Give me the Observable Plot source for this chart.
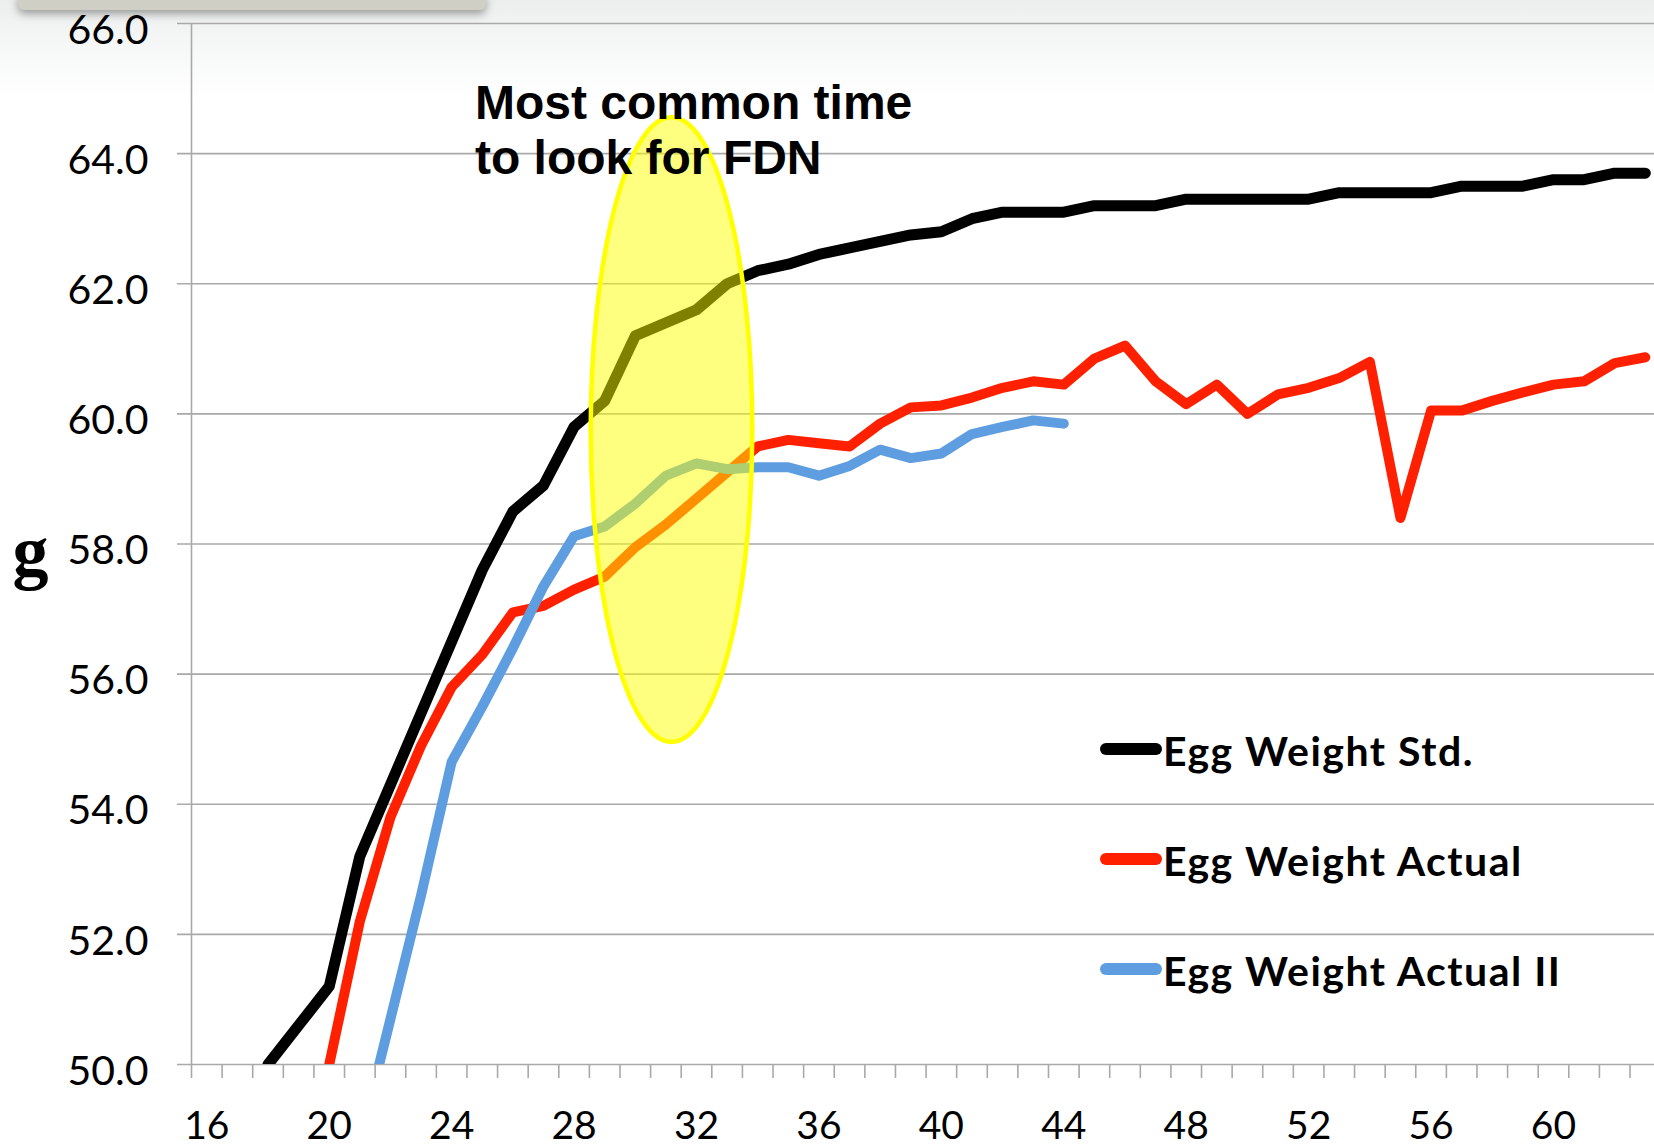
<!DOCTYPE html>
<html>
<head>
<meta charset="utf-8">
<script src="https://cdn.jsdelivr.net/npm/d3@7"></script>
<script src="https://cdn.jsdelivr.net/npm/@observablehq/plot@0.6"></script>
<style>
  html, body { margin: 0; padding: 0; background: #ffffff; }
  #wrap { position: relative; width: 1654px; height: 1147px; overflow: hidden;
          background: linear-gradient(to bottom, #eceeee 0px, #f4f5f5 35px, #fafbfb 70px, #ffffff 100px); }
  #bar { position: absolute; left: 18px; top: -8px; width: 468px; height: 18px; background: #cfcfc6;
         border-radius: 6px; box-shadow: 0 4px 8px rgba(0,0,0,0.35); }
  #chart { position: absolute; left: 0; top: 0; }
</style>
</head>
<body>
<div id="wrap"><div id="bar"></div><div id="chart"></div></div>
<script>
// ---- data (weeks of age, egg weight in g) ----
const weeks = [16,17,18,19,20,21,22,23,24,25,26,27,28,29,30,31,32,33,34,35,36,37,38,39,
               40,41,42,43,44,45,46,47,48,49,50,51,52,53,54,55,56,57,58,59,60,61,62,63];
const stdWeight = [null,null,50.0,50.6,51.2,53.2,54.3,55.4,56.5,57.6,58.5,58.9,59.8,60.2,61.2,61.4,61.6,62.0,62.2,62.3,62.45,62.55,62.65,62.75,
                   62.8,63.0,63.1,63.1,63.1,63.2,63.2,63.2,63.3,63.3,63.3,63.3,63.3,63.4,63.4,63.4,63.4,63.5,63.5,63.5,63.6,63.6,63.7,63.7];
const actualWeight = [null,null,null,null,50.0,52.2,53.8,54.9,55.8,56.3,56.95,57.05,57.3,57.5,57.95,58.3,58.7,59.1,59.5,59.6,59.55,59.5,59.85,60.1,
                      60.13,60.25,60.4,60.5,60.45,60.85,61.05,60.5,60.15,60.45,60.0,60.3,60.4,60.55,60.8,58.4,60.05,60.05,60.2,60.33,60.45,60.5,60.78,60.87];
const actual2Weight = [null,null,null,null,null,48.8,50.7,52.6,54.65,55.5,56.4,57.35,58.12,58.27,58.62,59.05,59.24,59.15,59.18,59.18,59.05,59.2,59.45,59.32,
                       59.39,59.69,59.8,59.9,59.85,null,null,null,null,null,null,null,null,null,null,null,null,null,null,null,null,null,null,null];
const seriesNames = ["Egg Weight Std.", "Egg Weight Actual", "Egg Weight Actual II"];
const seriesValues = [stdWeight, actualWeight, actual2Weight];
const seriesColors = ["#000000", "#ff2000", "#5e9ddf"];
const seriesWidths = [11, 10, 10];
const yTicks = [50, 52, 54, 56, 58, 60, 62, 64, 66];
const xTickLabels = [16, 20, 24, 28, 32, 36, 40, 44, 48, 52, 56, 60];
const yTitle = "g";
// highlighted period (ellipse) and its note
const highlight = {week: 31.2, g: 59.75, weekRadius: 2.64, gRadius: 4.8};
const note = {text: "Most common time\nto look for FDN", week: 24.76, g: 65.13};
// legend layout (pixels)
const legendLayout = {x: 1106, swatch: 50, textX: 1163, y0: 749, gap: 110};

const gridColor = "#a9a9a9";

const rows = seriesValues.map((vals, s) =>
  weeks.map((w, i) => ({week: w, g: vals[i], s})).filter(d => d.g != null));

const ellipseMark = (index, scales) => {
  const {x, y} = scales;
  return d3.create("svg:ellipse")
    .attr("cx", x(highlight.week))
    .attr("cy", y(highlight.g))
    .attr("rx", Math.abs(x(highlight.week + highlight.weekRadius) - x(highlight.week)))
    .attr("ry", Math.abs(y(highlight.g + highlight.gRadius) - y(highlight.g)))
    .attr("fill", "#ffff00").attr("fill-opacity", 0.5)
    .attr("stroke", "#ffff00").attr("stroke-width", 4.5)
    .node();
};

const legendMark = () => {
  const g = d3.create("svg:g");
  seriesNames.forEach((name, i) => {
    const cy = legendLayout.y0 + i * legendLayout.gap;
    g.append("line")
      .attr("x1", legendLayout.x).attr("x2", legendLayout.x + legendLayout.swatch)
      .attr("y1", cy).attr("y2", cy)
      .attr("stroke", seriesColors[i]).attr("stroke-width", 12).attr("stroke-linecap", "round");
    g.append("text")
      .attr("x", legendLayout.textX).attr("y", cy + 17)
      .attr("text-anchor", "start")
      .attr("font-family", "Lato").attr("font-weight", "bold").attr("font-size", 41)
      .attr("letter-spacing", "1.5px").attr("fill", "#000")
      .text(name);
  });
  return g.node();
};

const chart = Plot.plot({
  width: 1654,
  height: 1147,
  marginLeft: 191,
  marginRight: 0,
  marginTop: 23,
  marginBottom: 83,
  style: {background: "transparent", fontFamily: "Lato", overflow: "visible"},
  x: {domain: [15.5, 63.3], axis: null},
  y: {domain: [50, 66], axis: null},
  marks: [
    Plot.ruleY(yTicks, {stroke: gridColor, strokeWidth: 1.6, insetLeft: -14}),
    Plot.ruleX([weeks[0] - 0.5], {stroke: gridColor, strokeWidth: 1.6}),
    Plot.ruleX(weeks.map(w => w - 0.5), {y1: yTicks[0], y2: yTicks[0], insetBottom: -14, stroke: gridColor, strokeWidth: 1.6}),
    Plot.text(yTicks, {frameAnchor: "left", y: d => d, text: d => d.toFixed(1), textAnchor: "end",
      lineAnchor: "middle", dx: -43, dy: 7, fontSize: 41, fill: "#000", ariaLabel: "ylabels"}),
    Plot.text(xTickLabels, {x: d => d, frameAnchor: "bottom", text: d => String(d), textAnchor: "middle",
      lineAnchor: "bottom", dy: 74, fontSize: 39, fill: "#000", ariaLabel: "xlabels"}),
    Plot.text([yTitle], {frameAnchor: "left", text: d => d, textAnchor: "middle", lineAnchor: "middle",
      dx: -161, dy: 9, fontSize: 72, fontWeight: "bold", fontFamily: "Liberation Serif", fill: "#000"}),
    ...rows.map((data, s) => Plot.line(data, {x: "week", y: "g", stroke: seriesColors[s],
      strokeWidth: seriesWidths[s], strokeLinejoin: "round", strokeLinecap: "round", clip: true})),
    ellipseMark,
    Plot.text([note], {x: "week", y: "g", text: "text", textAnchor: "start", lineAnchor: "top",
      lineHeight: 1.146, fontSize: 48, fontWeight: "bold", fontFamily: "Liberation Sans", fill: "#000"}),
    legendMark
  ]
});

document.getElementById("chart").appendChild(chart);
chart.querySelectorAll('g[aria-label="ylabels"] text').forEach(t => t.setAttribute("letter-spacing", "3.5px"));
chart.querySelectorAll('g[aria-label="xlabels"] text').forEach(t => t.setAttribute("letter-spacing", "3px"));
</script>
</body>
</html>
